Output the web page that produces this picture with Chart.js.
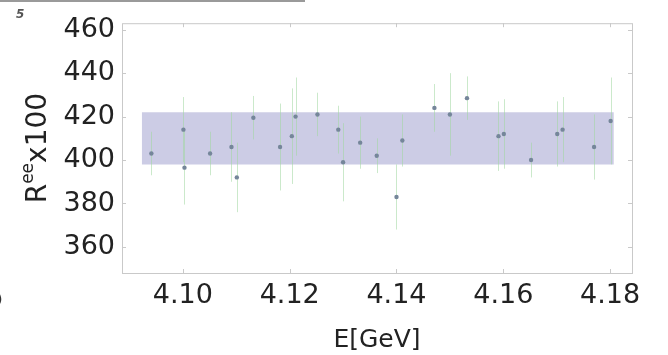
<!DOCTYPE html>
<html>
<head>
<meta charset="utf-8">
<script src="https://cdn.jsdelivr.net/npm/chart.js@4"></script>
<style>
  html, body { margin: 0; padding: 0; background: #fff; }
</style>
</head>
<body>
<canvas id="chart" width="668" height="355"></canvas>
<script>
// R^ee x100 measurements vs. beam energy
const energies = [4.0941, 4.1001, 4.1003, 4.1051, 4.1091, 4.1101, 4.1132, 4.1182, 4.1204,
                  4.1211, 4.1252, 4.1291, 4.1300, 4.1332, 4.1363, 4.1400, 4.1411, 4.1471,
                  4.1500, 4.1532, 4.1591, 4.1601, 4.1652, 4.1701, 4.1711, 4.1770, 4.1801];
const ratios   = [403, 414, 396.5, 403, 406, 392, 419.5, 406, 411,
                  420, 421, 414, 399, 408, 402, 383, 409, 424,
                  421, 428.5, 411, 412, 400, 412, 414, 406, 418];
const errors   = [10, 15, 17, 10, 16, 16, 10, 20, 22,
                  18, 10, 11, 18, 12, 8, 15, 12, 11,
                  19, 10, 16, 16, 8, 15, 15, 15, 20];

// average band
const bandEnergy = [4.0923, 4.1807];
const bandLow = 398;
const bandHigh = 422;

const xTicks = [4.10, 4.12, 4.14, 4.16, 4.18];
const yTicks = [360, 380, 400, 420, 440, 460];

const FONT = 'DejaVu Sans';

const points = energies.map((e, i) => ({ x: e, y: ratios[i] }));
const band = bandEnergy.map(e => ({ x: e, y: bandHigh }));

// error bars go right after the band, under the markers
const errorBars = {
    id: 'errorBars',
    afterDatasetDraw(chart, args) {
        if (args.index !== 1) return;
        const { ctx, scales: { x, y } } = chart;
        ctx.save();
        ctx.strokeStyle = 'rgba(160, 215, 160, 0.55)';
        ctx.lineWidth = 1;
        energies.forEach((e, i) => {
            const px = Math.round(x.getPixelForValue(e)) + 0.5;
            ctx.beginPath();
            ctx.moveTo(px, y.getPixelForValue(ratios[i] + errors[i]));
            ctx.lineTo(px, y.getPixelForValue(ratios[i] - errors[i]));
            ctx.stroke();
        });
        ctx.restore();
    }
};

// frame, inner ticks, axis titles
const frame = {
    id: 'frame',
    afterDraw(chart) {
        const { ctx, chartArea: a, scales: { x, y } } = chart;
        ctx.save();
        ctx.strokeStyle = '#c9c9c9';
        ctx.lineWidth = 1;
        ctx.strokeRect(a.left + 0.5, a.top + 0.5, a.right - a.left, a.bottom - a.top);
        ctx.beginPath();
        xTicks.forEach(v => {
            const px = Math.round(x.getPixelForValue(v)) + 0.5;
            ctx.moveTo(px, a.bottom); ctx.lineTo(px, a.bottom - 4);
            ctx.moveTo(px, a.top); ctx.lineTo(px, a.top + 4);
        });
        yTicks.forEach(v => {
            const py = Math.round(y.getPixelForValue(v)) + 0.5;
            ctx.moveTo(a.left, py); ctx.lineTo(a.left + 4, py);
            ctx.moveTo(a.right, py); ctx.lineTo(a.right - 4, py);
        });
        ctx.stroke();

        ctx.fillStyle = '#222';
        ctx.textAlign = 'center';
        ctx.textBaseline = 'middle';
        ctx.font = `25px ${FONT}`;
        ctx.fillText('E[GeV]', (a.left + a.right) / 2, 340);

        // y title with superscript
        ctx.translate(46, (a.top + a.bottom) / 2);
        ctx.rotate(-Math.PI / 2);
        ctx.textBaseline = 'alphabetic';
        ctx.textAlign = 'left';
        const big = `28px ${FONT}`, small = `17px ${FONT}`;
        ctx.font = big;
        const wR = ctx.measureText('R').width, wX = ctx.measureText('x100').width;
        ctx.font = small;
        const wE = ctx.measureText('ee').width;
        let cx = -(wR + wE + wX) / 2;
        ctx.font = big;
        ctx.fillText('R', cx, 0); cx += wR;
        ctx.font = small;
        ctx.fillText('ee', cx, -13); cx += wE;
        ctx.font = big;
        ctx.fillText('x100', cx, 0);
        ctx.restore();

        // cropped bits at the edges of the figure
        ctx.save();
        ctx.strokeStyle = '#9a9a9a';
        ctx.lineWidth = 2;
        ctx.beginPath(); ctx.moveTo(0, 1); ctx.lineTo(305, 1); ctx.stroke();
        ctx.fillStyle = '#555';
        ctx.font = `italic bold 12px ${FONT}`;
        ctx.fillText('5', 16, 18);
        ctx.fillStyle = '#333';
        ctx.font = `14px ${FONT}`;
        ctx.fillText(')', -3, 304);
        ctx.restore();
    }
};

new Chart(document.getElementById('chart'), {
    type: 'scatter',
    data: {
        datasets: [{
            data: points,
            order: 0,
            pointRadius: 2.2,
            pointBackgroundColor: '#75869a',
            pointBorderWidth: 0
        }, {
            type: 'line',
            data: band,
            order: 2,
            fill: { value: bandLow },
            backgroundColor: 'rgb(204, 204, 229)',
            borderWidth: 0,
            pointRadius: 0
        }]
    },
    options: {
        responsive: false,
        animation: false,
        layout: { padding: { top: 18, right: 36, left: 0, bottom: 0 } },
        plugins: { legend: { display: false }, tooltip: { enabled: false } },
        scales: {
            x: {
                type: 'linear',
                min: 4.0886,
                max: 4.1841,
                afterBuildTicks: s => { s.ticks = xTicks.map(v => ({ value: v })); },
                afterFit: s => { s.height = 82; },
                grid: { display: false, drawTicks: false },
                border: { display: false },
                ticks: {
                    padding: 7,
                    color: '#222',
                    font: { family: FONT, size: 27 },
                    maxRotation: 0,
                    callback: v => v.toFixed(2)
                }
            },
            y: {
                min: 348,
                max: 463,
                afterBuildTicks: s => { s.ticks = yTicks.map(v => ({ value: v })); },
                afterFit: s => { s.width = 122; },
                grid: { display: false, drawTicks: false },
                border: { display: false },
                ticks: {
                    padding: 7,
                    color: '#222',
                    font: { family: FONT, size: 27 }
                }
            }
        }
    },
    plugins: [errorBars, frame]
});
</script>
</body>
</html>
